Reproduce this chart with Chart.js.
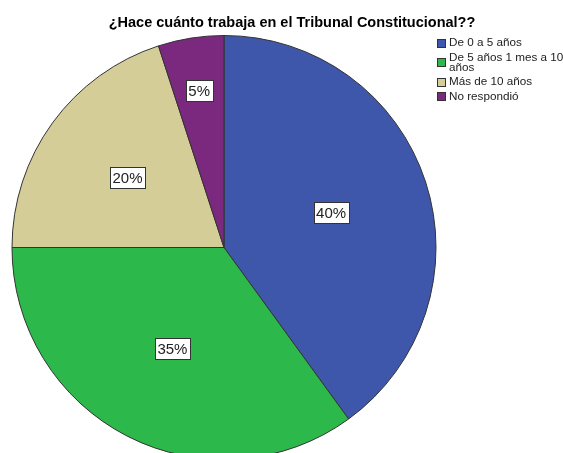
<!DOCTYPE html>
<html lang="es">
<head>
    <meta charset="UTF-8">
    <title>¿Hace cuánto trabaja en el Tribunal Constitucional??</title>
    <script src="https://cdn.jsdelivr.net/npm/chart.js"></script>
    <style>
        html, body { margin: 0; padding: 0; background: #fff; overflow: hidden; }
        #wrap { width: 563px; height: 453px; overflow: hidden; }
    </style>
</head>
<body>
    <div id="wrap">
        <canvas id="pie" width="563" height="480"></canvas>
    </div>

    <script>
        // chart data
        const chartTitle = '¿Hace cuánto trabaja en el Tribunal Constitucional??';
        const categories = ['De 0 a 5 años', 'De 5 años 1 mes a 10\naños', 'Más de 10 años', 'No respondió'];
        const percents = [40, 35, 20, 5];
        const sliceColors = ['#3F57AB', '#2DB84B', '#D4CD98', '#7A297E'];

        // draws title, legend and the boxed % labels
        const spssExtras = {
            id: 'spssExtras',
            afterDraw(chart) {
                const ctx = chart.ctx;
                ctx.save();

                // title
                ctx.font = 'bold 14.5px "Liberation Sans", Arial, sans-serif';
                ctx.fillStyle = '#000';
                ctx.textAlign = 'center';
                ctx.textBaseline = 'alphabetic';
                ctx.fillText(chartTitle, 292, 27);

                // slice labels, pushed outward a bit for thin slices
                const meta = chart.getDatasetMeta(0);
                ctx.font = '15px "Liberation Sans", Arial, sans-serif';
                ctx.textBaseline = 'middle';
                meta.data.forEach((arc, i) => {
                    const sweep = arc.endAngle - arc.startAngle;
                    const mid = arc.startAngle + sweep / 2;
                    const frac = sweep / (2 * Math.PI);
                    const d = arc.outerRadius * (0.5 + 0.0125 / frac);
                    const x = arc.x + Math.cos(mid) * d;
                    const y = arc.y + Math.sin(mid) * d;
                    const txt = percents[i] + '%';
                    const w = ctx.measureText(txt).width + 5;
                    const h = 21;
                    ctx.fillStyle = '#fff';
                    ctx.fillRect(Math.round(x - w / 2), Math.round(y - h / 2), Math.round(w), h);
                    ctx.strokeStyle = '#333';
                    ctx.lineWidth = 1;
                    ctx.strokeRect(Math.round(x - w / 2) + 0.5, Math.round(y - h / 2) + 0.5, Math.round(w), h);
                    ctx.fillStyle = '#222';
                    ctx.fillText(txt, x, y + 1);
                });

                // legend
                ctx.font = '11.7px "Liberation Sans", Arial, sans-serif';
                ctx.textAlign = 'left';
                let y = 28.5;
                categories.forEach((label, i) => {
                    const lines = label.split('\n');
                    y += 14.5;
                    const first = y;
                    lines.forEach((ln, k) => {
                        if (k > 0) y += 10;
                        ctx.fillStyle = '#222';
                        ctx.fillText(ln, 449, y);
                    });
                    const cy = (first + y) / 2;
                    ctx.fillStyle = sliceColors[i];
                    ctx.fillRect(437, Math.round(cy - 4.5), 9, 9);
                    ctx.strokeStyle = '#333';
                    ctx.strokeRect(437.5, Math.round(cy - 4.5) + 0.5, 8, 8);
                });

                ctx.restore();
            }
        };

        new Chart(document.getElementById('pie'), {
            type: 'pie',
            data: {
                labels: categories,
                datasets: [{
                    data: percents,
                    backgroundColor: sliceColors,
                    borderColor: '#333',
                    borderWidth: 1
                }]
            },
            options: {
                responsive: false,
                animation: false,
                layout: { padding: { left: 11, right: 126, top: 35, bottom: 20 } },
                plugins: {
                    legend: { display: false },
                    tooltip: { enabled: false }
                }
            },
            plugins: [spssExtras]
        });
    </script>
</body>
</html>
